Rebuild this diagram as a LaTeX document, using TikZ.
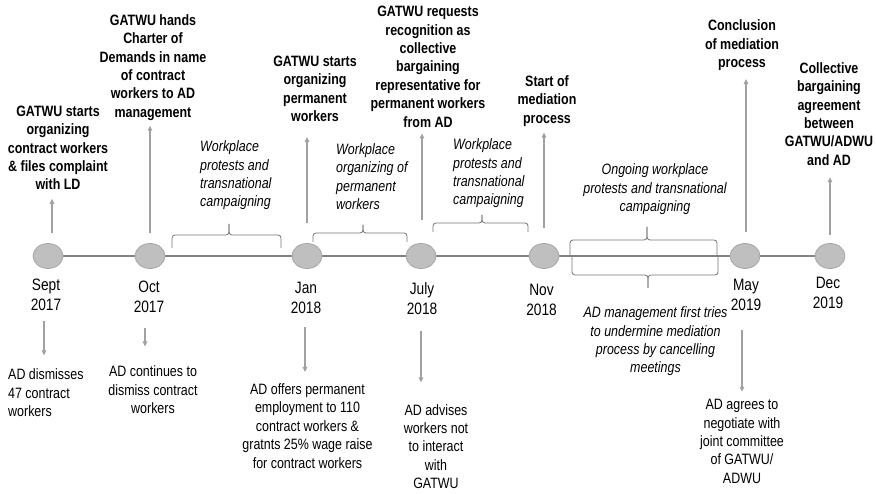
\documentclass[tikz,border=0pt]{standalone}
\usepackage{fontspec}
\setmainfont{Liberation Sans}[FakeStretch=0.83]
\usetikzlibrary{arrows.meta,backgrounds,shapes.geometric}
\newcommand{\dotcol}{black!25}
\newcommand{\arrcol}{black!37}
\newcommand{\spanbrace}[6]{%
  \draw[brc] (#1,#4) |- (#3,#5) -- (#3,#6);
  \draw[brc] (#2,#4) |- (#3,#5) -- (#3,#6);}

\begin{document}
\begin{tikzpicture}[x=1pt, y=-1pt,
    dot/.style={ellipse, fill=\dotcol, draw=black!35, line width=0.8pt,
      minimum width=30pt, minimum height=25pt, inner sep=0pt},
    ev/.style={font=\bfseries\fontsize{15}{18.4}\selectfont, align=center, inner sep=0pt},
    note/.style={font=\fontsize{15}{18.4}\selectfont, align=center, inner sep=0pt},
    span/.style={font=\itshape\fontsize{15}{18.4}\selectfont, inner sep=0pt},
    date/.style={font=\fontsize{16.5}{20}\selectfont, align=center, inner sep=0pt},
    arr/.style={draw=\arrcol, line width=1.5pt, -{Triangle[length=5pt,width=4.5pt]}},
    brc/.style={draw=black!55, line width=0.8pt, rounded corners=3pt},
    tl/.style={draw=black!50, line width=2pt}]

  \useasboundingbox (0,0) rectangle (876,494);

  % timeline dots
  \node[dot] (c1) at (48,256) {};
  \node[dot] (c2) at (150,256) {};
  \node[dot] (c3) at (307,256) {};
  \node[dot] (c4) at (421,256) {};
  \node[dot] (c5) at (544,256) {};
  \node[dot] (c6) at (745,256) {};
  \node[dot] (c7) at (830,256) {};
  \begin{scope}[on background layer]
    \draw[tl] (c1) -- (c7);
  \end{scope}

  % dates
  \node[date] (d1) at (46,294.5) {Sept\\2017};
  \node[date] (d2) at (149,297) {Oct\\2017};
  \node[date] (d3) at (306,297.5) {Jan\\2018};
  \node[date] (d4) at (422,298.5) {July\\2018};
  \node[date] (d5) at (541.5,300) {Nov\\2018};
  \node[date] (d6) at (746,295) {May\\2019};
  \node[date] (d7) at (828,292.5) {Dec\\2019};

  % union side
  \node[ev] (t1) at (58,148) {GATWU starts\\organizing\\contract workers\\\& files complaint\\with LD};
  \node[ev] (t2) at (153,67.5) {GATWU hands\\Charter of\\Demands in name\\of contract\\workers to AD\\management};
  \node[ev] (t3) at (315,89) {GATWU starts\\organizing\\permanent\\workers};
  \node[ev] (t4) at (428,66.7) {GATWU requests\\recognition as\\collective\\bargaining\\representative for\\permanent workers\\from AD};
  \node[ev] (t5) at (547,101) {Start of\\mediation\\process};
  \node[ev] (t6) at (742,45.5) {Conclusion\\of mediation\\process};
  \node[ev] (t7) at (829,114) {Collective\\bargaining\\agreement\\between\\GATWU/ADWU\\and AD};

  % ongoing activity
  \node[span, align=left, anchor=west] (s1) at (200,175.5) {Workplace\\protests and\\transnational\\campaigning};
  \node[span, align=left, anchor=west] (s2) at (336,176.5) {Workplace\\organizing of\\permanent\\workers};
  \node[span, align=left, anchor=west] (s3) at (453,173.5) {Workplace\\protests and\\transnational\\campaigning};
  \node[span, align=center] (s4) at (655,189.5) {Ongoing workplace\\protests and transnational\\campaigning};
  \node[span, align=center] (s5) at (655.5,341.5) {AD management first tries\\to undermine mediation\\process by cancelling\\meetings};

  % employer side
  \node[note, align=left, anchor=west] (b1) at (8,393) {AD dismisses\\47 contract\\workers};
  \node[note] (b2) at (153,390) {AD continues to\\dismiss contract\\workers};
  \node[note] (b3) at (307.5,426) {AD offers permanent\\employment to 110\\contract workers \&\\gratnts 25\% wage raise\\for contract workers};
  \node[note] (b4) at (436,446.5) {AD advises\\workers not\\to interact\\with\\GATWU};
  \node[note] (b5) at (742,441.5) {AD agrees to\\negotiate with\\joint committee\\of GATWU/\\ADWU};

  \foreach \c/\t/\dx/\sa/\sb in {c1/t1/4/10.5/8.5, c2/t2/0/10.5/5, c3/t3/0/20/15,
      c4/t4/1/23/6, c5/t5/0/15/6, c6/t6/1/11/8, c7/t7/0/8.5/11.5}
    \draw[arr, shorten <=\sa pt, shorten >=\sb pt]
      ([xshift=\dx pt]\c.north) -- ([xshift=\dx pt]\c.north |- \t.south);

  \foreach \d/\b/\dx/\sa/\sb in {d1/b1/-2/10/13.5, d2/b2/-4/14.5/19.5, d3/b3/-1/14/11.5,
      d4/b4/-1/16/21.5, d6/b5/-4/19.5/7.5}
    \draw[arr, shorten <=\sa pt, shorten >=\sb pt]
      ([xshift=\dx pt]\d.south) -- ([xshift=\dx pt]\d.south |- \b.north);

  % braces
  \spanbrace{172}{281}{229}{248}{235}{224}
  \spanbrace{313}{407}{363}{242}{233}{225}
  \spanbrace{433}{528}{482}{232}{223}{215}
  \spanbrace{570}{717}{647}{255}{240}{227}
  \spanbrace{572}{718}{648}{257}{275}{288}
\end{tikzpicture}
\end{document}
